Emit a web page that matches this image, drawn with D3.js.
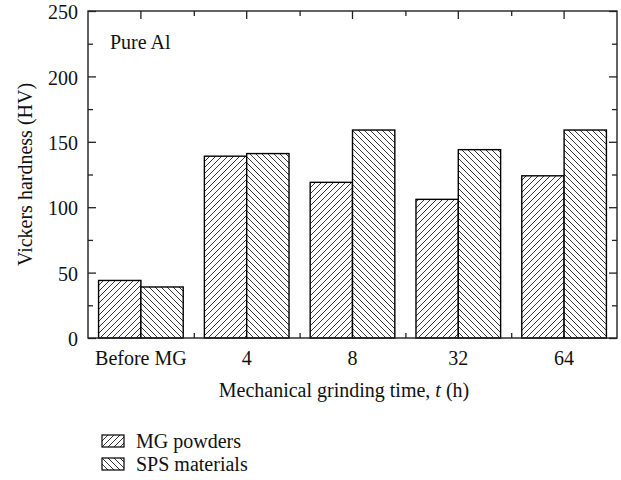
<!DOCTYPE html>
<html>
<head>
<meta charset="utf-8">
<script src="https://cdn.jsdelivr.net/npm/d3@7"></script>
<style>
  html, body { margin: 0; padding: 0; background: #fff; }
  svg { display: block; }
  text { font-family: "Liberation Serif", "Times New Roman", serif; fill: #111; }
</style>
</head>
<body>
<div id="chart"></div>
<script>
// Vickers hardness of pure Al: MG powders vs. SPS materials
const categories = ["Before MG", "4", "8", "32", "64"];
const seriesNames = ["MG powders", "SPS materials"];
const mgPowders = [44, 139, 119, 106, 124];
const spsMaterials = [39, 141, 159, 144, 159];
const yMajorTicks = [0, 50, 100, 150, 200, 250];
const yMinorTicks = [25, 75, 125, 175, 225];

const W = 621, H = 480;
const plotLeft = 88, plotRight = 617, plotTop = 11, plotBottom = 338;

const svg = d3.select("#chart").append("svg")
  .attr("width", W).attr("height", H);

// Hatch patterns
const defs = svg.append("defs");
function hatch(id, d, step) {
  const p = defs.append("pattern")
    .attr("id", id)
    .attr("patternUnits", "userSpaceOnUse")
    .attr("width", step).attr("height", step);
  p.append("rect").attr("width", step).attr("height", step).attr("fill", "#fff");
  p.append("path").attr("d", d).attr("stroke", "#222").attr("stroke-width", 0.9)
    .attr("fill", "none");
}
const s = 6;
hatch("hatchFwd", `M-1,1 l2,-2 M0,${s} l${s},-${s} M${s-1},${s+1} l2,-2`, s);
hatch("hatchBack", `M-1,${s-1} l2,2 M0,0 l${s},${s} M${s-1},-1 l2,2`, s);
const fills = ["url(#hatchFwd)", "url(#hatchBack)"];

const y = d3.scaleLinear().domain([0, 250]).range([plotBottom, plotTop]);
const x = d3.scaleBand().domain(categories).range([plotLeft, plotRight])
  .paddingInner(0.2).paddingOuter(0.1);
const xs = d3.scaleBand().domain(seriesNames).range([0, x.bandwidth()]);
const xEdge = d3.scaleLinear().domain([0, categories.length]).range([plotLeft, plotRight]);

const series = [mgPowders, spsMaterials];

// Bars
const g = svg.append("g");
series.forEach((vals, si) => {
  g.selectAll(null).data(categories).enter().append("rect")
    .attr("x", c => x(c) + xs(seriesNames[si]))
    .attr("y", (c, i) => y(vals[i]))
    .attr("width", xs.bandwidth())
    .attr("height", (c, i) => y(0) - y(vals[i]))
    .attr("fill", fills[si])
    .attr("stroke", "#000")
    .attr("stroke-width", 1.4);
});

function styleAxis(sel) {
  sel.select(".domain").remove();
  sel.selectAll(".tick line").attr("stroke", "#222").attr("stroke-width", 1.3);
  sel.selectAll("text").attr("font-size", 20).attr("fill", "#111")
    .attr("font-family", "Liberation Serif, serif");
}

// Left axis (labels, inward ticks)
svg.append("g").attr("transform", `translate(${plotLeft},0)`)
  .call(d3.axisLeft(y).tickValues(yMajorTicks).tickSize(-8).tickPadding(10))
  .call(styleAxis)
  .call(a => a.selectAll("text").attr("dy", "0.38em"));
svg.append("g").attr("transform", `translate(${plotLeft},0)`)
  .call(d3.axisLeft(y).tickValues(yMinorTicks).tickSize(-5).tickFormat(""))
  .call(styleAxis);

// Right axis
svg.append("g").attr("transform", `translate(${plotRight},0)`)
  .call(d3.axisRight(y).tickValues(yMajorTicks).tickSize(-8).tickFormat(""))
  .call(styleAxis);
svg.append("g").attr("transform", `translate(${plotRight},0)`)
  .call(d3.axisRight(y).tickValues(yMinorTicks).tickSize(-5).tickFormat(""))
  .call(styleAxis);

// Top axis
svg.append("g").attr("transform", `translate(0,${plotTop})`)
  .call(d3.axisTop(x).tickSize(-8).tickFormat(""))
  .call(styleAxis);
svg.append("g").attr("transform", `translate(0,${plotTop})`)
  .call(d3.axisTop(xEdge).tickValues([1, 2, 3, 4]).tickSize(-5).tickFormat(""))
  .call(styleAxis);

// Bottom axis
svg.append("g").attr("transform", `translate(0,${plotBottom})`)
  .call(d3.axisBottom(x).tickSize(0).tickPadding(13))
  .call(styleAxis);
svg.append("g").attr("transform", `translate(0,${plotBottom})`)
  .call(d3.axisBottom(xEdge).tickValues([1, 2, 3, 4]).tickSize(-5).tickFormat(""))
  .call(styleAxis);

// Frame
svg.append("rect")
  .attr("x", plotLeft).attr("y", plotTop)
  .attr("width", plotRight - plotLeft).attr("height", plotBottom - plotTop)
  .attr("fill", "none").attr("stroke", "#222").attr("stroke-width", 1.4);

// Annotation
svg.append("text").attr("x", 110).attr("y", 49)
  .attr("font-size", 20).text("Pure Al");

// Axis titles
svg.append("text")
  .attr("transform", "rotate(-90)")
  .attr("x", -(plotTop + plotBottom) / 2).attr("y", 32)
  .attr("text-anchor", "middle").attr("font-size", 20)
  .text("Vickers hardness (HV)");

const xt = svg.append("text")
  .attr("x", 344).attr("y", 397)
  .attr("text-anchor", "middle").attr("font-size", 20);
xt.append("tspan").text("Mechanical grinding time, ");
xt.append("tspan").attr("font-style", "italic").text("t");
xt.append("tspan").text(" (h)");

// Legend
const legend = svg.append("g").attr("transform", "translate(102,435)");
seriesNames.forEach((name, i) => {
  const row = legend.append("g").attr("transform", `translate(0,${i * 23})`);
  row.append("rect").attr("width", 22).attr("height", 12)
    .attr("fill", fills[i]).attr("stroke", "#000").attr("stroke-width", 1.2);
  row.append("text").attr("x", 34).attr("y", 12.5)
    .attr("font-size", 20).text(name);
});
</script>
</body>
</html>
